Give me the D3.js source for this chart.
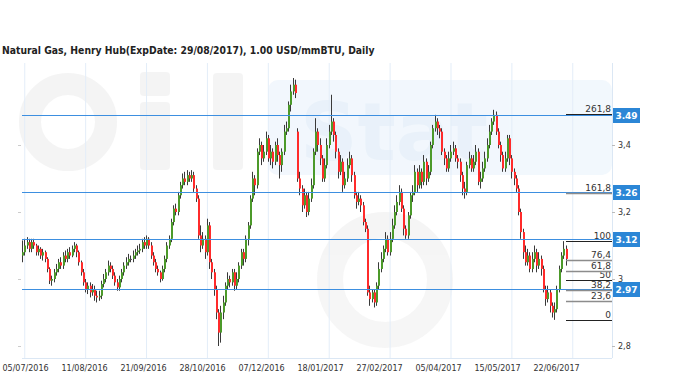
<!DOCTYPE html>
<html lang="en">
  <head>
    <title>Natural Gas, Henry Hub</title>
    <meta charset="utf-8">
    <script src="https://cdnjs.cloudflare.com/ajax/libs/d3/7.8.5/d3.min.js"></script>
    <style>
      body { margin: 0; background: #fff; }
      .title { font: bold 10.3px "DejaVu Sans Condensed", "DejaVu Sans", sans-serif; fill: #222; }
      .yaxis text { font: 8px "DejaVu Sans", sans-serif; fill: #333; }
      .yaxis line { stroke: #bbb; }
      .xaxis text { font: 8px "DejaVu Sans", sans-serif; fill: #333; }
      .fib { font: 9px "DejaVu Sans", sans-serif; fill: #333; }
      .pbox { font: bold 9px "DejaVu Sans", sans-serif; fill: #fff; }
    </style>
  </head>
  <body>
    <script>

    // x tick labels and the candle index each grid line sits on
    var tickLabels = ["05/07/2016", "11/08/2016", "21/09/2016", "28/10/2016", "07/12/2016",
                      "18/01/2017", "27/02/2017", "05/04/2017", "15/05/2017", "22/06/2017"];
    var tickIndex = [1, 28, 55, 82, 109, 136, 163, 190, 217, 244];

    var yTicks = [2.8, 3.0, 3.2, 3.4];

    // horizontal blue levels with price boxes
    var levels = [3.49, 3.26, 3.12, 2.97];

    // fibonacci retracement (0 = 2.878, 100 = 3.113)
    var fibLabels = ["0", "23,6", "38,2", "50", "61,8", "76,4", "100", "161,8", "261,8"];
    var fibValues = [2.878, 2.933, 2.968, 2.996, 3.023, 3.058, 3.113, 3.258, 3.493];
    var fibDark   = [true, false, false, true, false, false, true, false, true];

    // daily candles
    var open = [
      3.07,3.08,3.10,3.11,3.09,3.11,3.10,3.08,3.09,3.07,3.08,3.06,3.03,2.995,3.00,3.02,3.03,3.05,3.04,3.07,
      3.06,3.08,3.07,3.09,3.10,3.08,3.05,3.02,2.99,2.97,2.98,2.96,2.97,2.95,2.945,2.95,2.985,3.00,3.02,3.04,
      3.03,3.01,2.99,2.975,3.00,3.02,3.04,3.05,3.06,3.06,3.07,3.08,3.085,3.09,3.11,3.10,3.12,3.10,3.07,3.05,
      3.03,3.02,3.00,3.03,3.06,3.10,3.12,3.17,3.21,3.20,3.25,3.28,3.30,3.29,3.31,3.30,3.31,3.27,3.24,3.13,
      3.10,3.12,3.08,3.16,3.05,3.02,2.97,2.90,2.84,2.90,2.93,2.98,3.00,2.99,3.02,2.98,3.00,3.04,3.08,3.06,
      3.12,3.16,3.24,3.30,3.28,3.38,3.40,3.36,3.38,3.42,3.36,3.38,3.35,3.40,3.37,3.34,3.38,3.44,3.45,3.52,
      3.56,3.58,3.44,3.30,3.27,3.22,3.25,3.20,3.24,3.28,3.38,3.44,3.40,3.36,3.30,3.34,3.40,3.44,3.47,3.43,
      3.38,3.32,3.35,3.28,3.30,3.34,3.36,3.31,3.25,3.23,3.24,3.22,3.17,3.15,2.96,2.94,2.96,2.93,2.98,3.03,
      3.06,3.09,3.12,3.08,3.12,3.16,3.20,3.23,3.26,3.21,3.15,3.13,3.19,3.25,3.26,3.32,3.28,3.32,3.29,3.35,
      3.30,3.32,3.40,3.45,3.47,3.45,3.44,3.38,3.36,3.33,3.36,3.38,3.39,3.36,3.35,3.31,3.27,3.26,3.34,3.36,
      3.33,3.35,3.38,3.29,3.30,3.33,3.36,3.40,3.44,3.47,3.49,3.44,3.40,3.37,3.33,3.36,3.42,3.36,3.32,3.30,
      3.27,3.20,3.14,3.08,3.05,3.07,3.03,3.06,3.08,3.04,3.06,3.03,2.97,2.94,2.96,2.92,2.90,2.91,2.97,3.03,3.07,3.09
    ];
    var high = [
      3.115,3.12,3.125,3.12,3.12,3.12,3.105,3.10,3.095,3.09,3.085,3.065,3.035,3.01,3.03,3.045,3.06,3.065,3.08,3.085,
      3.09,3.095,3.10,3.11,3.105,3.085,3.055,3.03,3.00,2.99,2.99,2.985,2.98,2.965,2.965,2.995,3.015,3.03,3.055,3.05,
      3.04,3.02,3.00,3.01,3.03,3.05,3.065,3.075,3.07,3.085,3.09,3.10,3.105,3.12,3.125,3.13,3.125,3.11,3.08,3.06,
      3.04,3.025,3.04,3.07,3.11,3.13,3.18,3.22,3.225,3.26,3.29,3.315,3.32,3.325,3.32,3.325,3.32,3.28,3.25,3.16,
      3.14,3.13,3.18,3.17,3.06,3.03,2.98,2.91,2.92,2.95,2.99,3.02,3.01,3.03,3.03,3.02,3.05,3.09,3.09,3.13,
      3.17,3.25,3.32,3.31,3.39,3.42,3.41,3.40,3.44,3.43,3.40,3.39,3.41,3.42,3.38,3.39,3.46,3.47,3.53,3.58,
      3.60,3.595,3.45,3.32,3.28,3.27,3.26,3.26,3.30,3.39,3.48,3.45,3.42,3.37,3.36,3.42,3.46,3.55,3.48,3.44,
      3.39,3.37,3.36,3.32,3.36,3.38,3.37,3.32,3.26,3.26,3.25,3.23,3.18,3.16,2.98,2.97,2.97,2.99,3.05,3.08,
      3.10,3.14,3.13,3.14,3.18,3.22,3.25,3.28,3.27,3.22,3.16,3.20,3.26,3.28,3.34,3.33,3.34,3.33,3.37,3.36,
      3.34,3.41,3.46,3.49,3.48,3.46,3.45,3.39,3.37,3.38,3.40,3.41,3.40,3.37,3.36,3.32,3.29,3.35,3.38,3.37,
      3.37,3.40,3.39,3.32,3.35,3.38,3.42,3.46,3.48,3.505,3.50,3.45,3.41,3.38,3.38,3.43,3.43,3.37,3.33,3.31,
      3.28,3.21,3.15,3.10,3.09,3.08,3.08,3.10,3.09,3.08,3.07,3.04,2.98,2.98,2.97,2.93,2.93,2.98,3.04,3.08,3.113,3.10
    ];
    var low = [
      3.05,3.07,3.09,3.08,3.08,3.09,3.07,3.07,3.06,3.055,3.05,3.02,2.985,2.98,2.99,3.01,3.02,3.03,3.03,3.05,
      3.05,3.06,3.065,3.08,3.065,3.04,3.01,2.98,2.96,2.955,2.945,2.95,2.935,2.93,2.935,2.94,2.975,2.99,3.01,3.02,
      3.00,2.98,2.965,2.965,2.99,3.01,3.03,3.04,3.05,3.05,3.06,3.07,3.075,3.08,3.09,3.09,3.09,3.06,3.04,3.02,
      3.01,2.99,2.995,3.02,3.05,3.09,3.11,3.16,3.19,3.19,3.24,3.27,3.28,3.28,3.29,3.29,3.26,3.23,3.12,3.08,
      3.09,3.06,3.07,3.03,3.00,2.95,2.88,2.80,2.81,2.88,2.92,2.97,2.975,2.98,2.965,2.97,2.99,3.03,3.04,3.05,
      3.10,3.15,3.23,3.25,3.27,3.37,3.34,3.35,3.37,3.35,3.34,3.33,3.34,3.35,3.30,3.32,3.37,3.43,3.44,3.50,
      3.55,3.54,3.29,3.25,3.20,3.21,3.185,3.19,3.23,3.27,3.37,3.38,3.34,3.29,3.29,3.33,3.39,3.43,3.41,3.36,
      3.30,3.31,3.26,3.27,3.29,3.33,3.29,3.24,3.21,3.22,3.20,3.16,3.14,2.95,2.92,2.93,2.915,2.92,2.97,3.02,
      3.05,3.08,3.07,3.07,3.11,3.15,3.19,3.22,3.20,3.13,3.12,3.12,3.18,3.23,3.25,3.26,3.27,3.27,3.28,3.28,
      3.29,3.31,3.39,3.44,3.43,3.42,3.37,3.34,3.32,3.32,3.35,3.37,3.35,3.33,3.29,3.25,3.24,3.25,3.33,3.32,
      3.32,3.34,3.28,3.27,3.29,3.32,3.35,3.39,3.43,3.46,3.43,3.39,3.35,3.32,3.32,3.35,3.34,3.30,3.28,3.26,
      3.19,3.12,3.06,3.04,3.04,3.02,3.02,3.05,3.02,3.03,3.01,2.96,2.92,2.93,2.90,2.885,2.878,2.90,2.96,3.02,3.06,3.04
    ];
    var close = [
      3.08,3.10,3.11,3.09,3.11,3.10,3.08,3.09,3.07,3.08,3.06,3.03,2.995,3.00,3.02,3.03,3.05,3.04,3.07,3.06,
      3.08,3.07,3.09,3.10,3.08,3.05,3.02,2.99,2.97,2.98,2.96,2.97,2.95,2.945,2.95,2.985,3.00,3.02,3.04,3.03,
      3.01,2.99,2.975,3.00,3.02,3.04,3.05,3.06,3.06,3.07,3.08,3.085,3.09,3.11,3.10,3.12,3.10,3.07,3.05,3.03,
      3.02,3.00,3.03,3.06,3.10,3.12,3.17,3.21,3.20,3.25,3.28,3.30,3.29,3.31,3.30,3.31,3.27,3.24,3.13,3.10,
      3.12,3.08,3.16,3.05,3.02,2.97,2.90,2.84,2.90,2.93,2.98,3.00,2.99,3.02,2.98,3.00,3.04,3.08,3.06,3.12,
      3.16,3.24,3.30,3.28,3.38,3.40,3.36,3.38,3.42,3.36,3.38,3.35,3.40,3.37,3.34,3.38,3.44,3.45,3.52,3.56,
      3.58,3.555,3.30,3.27,3.22,3.25,3.20,3.24,3.28,3.38,3.44,3.40,3.36,3.30,3.34,3.40,3.44,3.47,3.43,3.38,
      3.32,3.35,3.28,3.30,3.34,3.36,3.31,3.25,3.23,3.24,3.22,3.17,3.15,2.96,2.94,2.96,2.93,2.98,3.03,3.06,
      3.09,3.12,3.08,3.12,3.16,3.20,3.23,3.26,3.21,3.15,3.13,3.19,3.25,3.26,3.32,3.28,3.32,3.29,3.35,3.30,
      3.32,3.40,3.45,3.47,3.45,3.44,3.38,3.36,3.33,3.36,3.38,3.39,3.36,3.35,3.31,3.27,3.26,3.34,3.36,3.33,
      3.35,3.38,3.29,3.30,3.33,3.36,3.40,3.44,3.47,3.49,3.44,3.40,3.37,3.33,3.36,3.42,3.36,3.32,3.30,3.27,
      3.20,3.14,3.08,3.05,3.07,3.03,3.06,3.08,3.04,3.06,3.03,2.97,2.94,2.96,2.92,2.90,2.91,2.97,3.03,3.07,3.09,3.06
    ];

    var candles = close.map(function(c, i) {
      return {i: i, o: open[i], h: high[i], l: low[i], c: c};
    });

    var w = 680, h = 381;
    var plotLeft = 22, plotRight = 612, plotTop = 63, plotBottom = 358;

    var svg = d3.select("body")
                .append("svg")
                .attr("width", w)
                .attr("height", h);

    var xS = d3.scaleLinear().domain([0, 241]).range([22, 565.5]);
    var yS = d3.scaleLinear().domain([2.8, 3.4]).range([346, 145]);
    var labelS = d3.scalePoint().domain(tickLabels).range([25, 556]);

    var comma = d3.formatLocale({decimal: ",", thousands: ".", grouping: [3], currency: ["", ""]}).format("~g");

    // faint watermark logo
    var wm = svg.append("g").attr("class", "watermark").attr("opacity", 0.6);
    wm.append("circle").attr("cx", 68).attr("cy", 122).attr("r", 38)
      .attr("fill", "none").attr("stroke", "#eeeeee").attr("stroke-width", 22);
    wm.append("rect").attr("x", 140).attr("y", 72).attr("width", 30).attr("height", 24).attr("rx", 4).attr("fill", "#eeeeee");
    wm.append("rect").attr("x", 140).attr("y", 102).attr("width", 30).attr("height", 68).attr("rx", 4).attr("fill", "#eeeeee");
    wm.append("rect").attr("x", 213).attr("y", 73).attr("width", 30).attr("height", 97).attr("rx", 4).attr("fill", "#eeeeee");
    wm.append("rect").attr("x", 268).attr("y", 80).attr("width", 344).attr("height", 95).attr("rx", 10).attr("fill", "#eaf3fc");
    wm.append("text").attr("x", 300).attr("y", 160).text("Stat")
      .style("font", "bold 80px 'DejaVu Sans', sans-serif").attr("fill", "#dbe9f7");
    wm.append("circle").attr("cx", 385).attr("cy", 280).attr("r", 55)
      .attr("fill", "none").attr("stroke", "#f0f0f0").attr("stroke-width", 26);

    // title
    svg.append("text")
       .attr("class", "title")
       .attr("x", 2)
       .attr("y", 54)
       .text("Natural Gas, Henry Hub(ExpDate: 29/08/2017), 1.00 USD/mmBTU, Daily");

    // vertical grid
    svg.selectAll(".vgrid")
       .data(tickIndex)
       .enter()
       .append("line")
       .attr("class", "vgrid")
       .attr("x1", function(d) { return xS(d) + 0.5; })
       .attr("x2", function(d) { return xS(d) + 0.5; })
       .attr("y1", plotTop)
       .attr("y2", plotBottom)
       .attr("stroke", "#e3edf8");

    // frame (right + bottom)
    svg.append("line").attr("x1", plotRight + 0.5).attr("x2", plotRight + 0.5)
       .attr("y1", plotTop).attr("y2", plotBottom).attr("stroke", "#dbe7f4");
    svg.append("line").attr("x1", plotLeft).attr("x2", plotRight)
       .attr("y1", plotBottom + 0.5).attr("y2", plotBottom + 0.5).attr("stroke", "#dbe7f4");

    // small left ticks
    svg.selectAll(".lt")
       .data(yTicks)
       .enter()
       .append("line")
       .attr("class", "lt")
       .attr("x1", 18).attr("x2", 21)
       .attr("y1", function(d) { return Math.round(yS(d)) + 0.5; })
       .attr("y2", function(d) { return Math.round(yS(d)) + 0.5; })
       .attr("stroke", "#ccc");

    // right axis
    var yguide = svg.append("g")
                    .attr("class", "yaxis")
                    .attr("transform", "translate(" + plotRight + ",0)")
                    .call(d3.axisRight(yS).tickValues(yTicks).tickSize(3).tickPadding(3).tickFormat(comma));
    yguide.select(".domain").remove();

    // bottom labels
    var xguide = svg.append("g")
                    .attr("class", "xaxis")
                    .attr("transform", "translate(0," + plotBottom + ")")
                    .call(d3.axisBottom(labelS).tickSize(0).tickPadding(7));
    xguide.select(".domain").remove();

    // candles
    var cg = svg.append("g").attr("class", "candles");
    var cs = cg.selectAll("g")
               .data(candles)
               .enter()
               .append("g");
    cs.append("line")
      .attr("x1", function(d) { return Math.round(xS(d.i)) + 0.5; })
      .attr("x2", function(d) { return Math.round(xS(d.i)) + 0.5; })
      .attr("y1", function(d) { return yS(d.h); })
      .attr("y2", function(d) { return yS(d.l); })
      .attr("stroke", "#3a3a3a")
      .attr("stroke-width", 1);
    cs.append("rect")
      .attr("x", function(d) { return Math.round(xS(d.i)); })
      .attr("width", 2)
      .attr("y", function(d) { return yS(Math.max(d.o, d.c)); })
      .attr("height", function(d) { return Math.max(1, Math.abs(yS(d.o) - yS(d.c))); })
      .attr("fill", function(d) { return d.c > d.o ? "#4c9a2a" : (d.c < d.o ? "#ff2b2b" : "#555"); });

    // blue level lines
    svg.selectAll(".lvl")
       .data(levels)
       .enter()
       .append("line")
       .attr("class", "lvl")
       .attr("x1", plotLeft)
       .attr("x2", plotRight)
       .attr("y1", function(d) { return Math.round(yS(d)) + 0.5; })
       .attr("y2", function(d) { return Math.round(yS(d)) + 0.5; })
       .attr("stroke", "#3d8fe0");

    // fibonacci lines + labels
    var fib = svg.selectAll(".fibg")
                 .data(fibValues)
                 .enter()
                 .append("g")
                 .attr("class", "fibg");
    fib.append("line")
       .attr("x1", 566)
       .attr("x2", plotRight)
       .attr("y1", function(d) { return Math.round(yS(d)) + 0.5; })
       .attr("y2", function(d) { return Math.round(yS(d)) + 0.5; })
       .attr("stroke", function(d, i) { return fibDark[i] ? "#222" : "#8c8c8c"; })
       .attr("stroke-width", function(d, i) { return fibDark[i] ? 1 : 1.6; });
    fib.append("text")
       .attr("class", "fib")
       .attr("x", 611)
       .attr("y", function(d) { return Math.round(yS(d)) - 2; })
       .attr("text-anchor", "end")
       .text(function(d, i) { return fibLabels[i]; });

    // price boxes
    var pb = svg.selectAll(".pb")
                .data(levels)
                .enter()
                .append("g")
                .attr("class", "pb");
    pb.append("rect")
      .attr("x", 613)
      .attr("y", function(d) { return Math.round(yS(d)) - 7; })
      .attr("width", 27)
      .attr("height", 15)
      .attr("fill", "#2b86d6");
    pb.append("text")
      .attr("class", "pbox")
      .attr("x", 626.5)
      .attr("y", function(d) { return Math.round(yS(d)) + 4; })
      .attr("text-anchor", "middle")
      .text(function(d) { return d.toFixed(2); });

    </script>
  </body>
</html>
